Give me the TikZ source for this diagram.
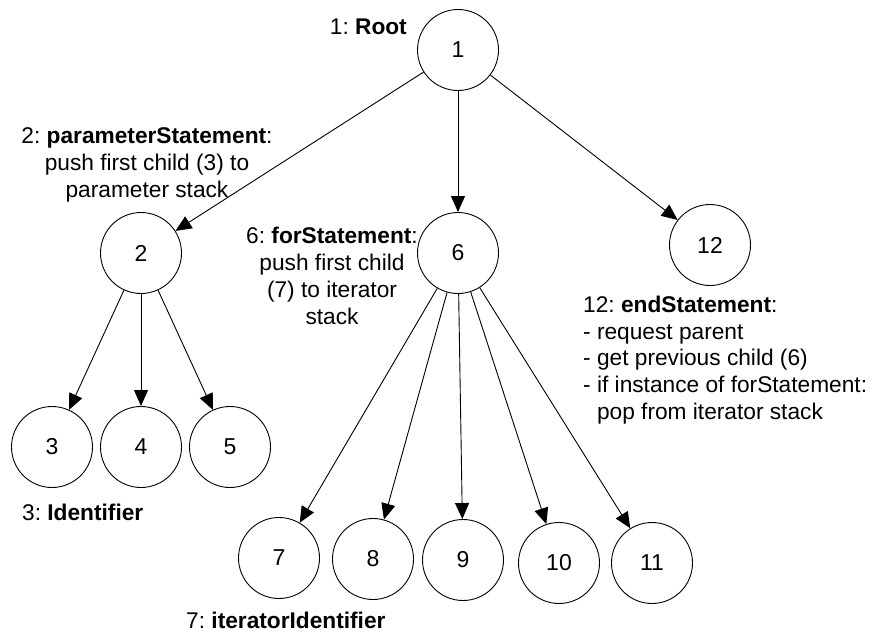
\documentclass[tikz,border=0pt]{standalone}
\usepackage{fontspec}
\setmainfont{Liberation Sans}
\usetikzlibrary{arrows.meta}
\frenchspacing
\begin{document}
\begin{tikzpicture}[x=1pt,y=-1pt,
  vtx/.style={draw,circle,minimum size=81pt,inner sep=0pt,line width=0.9pt,font=\fontsize{23}{27}\selectfont},
  edge/.style={line width=0.9pt,-{Triangle[length=16pt,width=14pt]}},
  lbl/.style={font=\fontsize{22.7}{26.8}\selectfont,inner sep=0pt}]
\useasboundingbox (0,0) rectangle (871,632);
\node[vtx] (n1) at (458,50) {1};
\node[vtx] (n2) at (141,253) {2};
\node[vtx] (n6) at (458,253) {6};
\node[vtx] (n12) at (710,245) {12};
\node[vtx] (n3) at (52,447) {3};
\node[vtx] (n4) at (141,447) {4};
\node[vtx] (n5) at (230,447) {5};
\node[vtx] (n7) at (279,558) {7};
\node[vtx] (n8) at (373,559) {8};
\node[vtx] (n9) at (463,560) {9};
\node[vtx] (n10) at (559,563) {10};
\node[vtx] (n11) at (652,563) {11};
\draw[edge] (n1) -- (n2);
\draw[edge] (n1) -- (n6);
\draw[edge] (n1) -- (n12);
\draw[edge] (n2) -- (n3);
\draw[edge] (n2) -- (n4);
\draw[edge] (n2) -- (n5);
\draw[edge] (n6) -- (n7);
\draw[edge] (n6) -- (n8);
\draw[edge] (n6) -- (n9);
\draw[edge] (n6) -- (n10);
\draw[edge] (n6) -- (n11);
\node[lbl,anchor=east] (l1) at (407,27) {1: \textbf{Root}};
\node[lbl,align=center] (l2) at (147,165) {2: \textbf{parameterStatement}:\\push first child (3) to\\parameter stack};
\node[lbl,align=center] (l6) at (332,276) {6: \textbf{forStatement}:\\push first child\\(7) to iterator\\stack};
\node[lbl,align=left,anchor=west] (l12) at (583,360) {12: \textbf{endStatement}:\\- request parent\\- get previous child (6)\\- if instance of forStatement:\\\hphantom{- }pop from iterator stack};
\node[lbl,anchor=west] (l3) at (22,512) {3: \textbf{Identifier}};
\node[lbl,anchor=west] (l7) at (186,620) {7: \textbf{iteratorIdentifier}};
\end{tikzpicture}
\end{document}
